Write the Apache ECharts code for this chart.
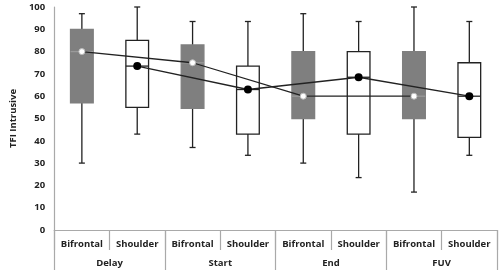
<!DOCTYPE html>
<html>
<head>
<meta charset="utf-8">
<script src="https://cdn.jsdelivr.net/npm/echarts@6/dist/echarts.min.js"></script>
<style>
html, body { margin: 0; padding: 0; background: #fff; }
#chart { width: 500px; height: 275px; }
</style>
</head>
<body>
<div id="chart"></div>
<script>
// categories on the two x levels
var categories = ['Bifrontal', 'Shoulder', 'Bifrontal', 'Shoulder', 'Bifrontal', 'Shoulder', 'Bifrontal', 'Shoulder'];
var groups = ['Delay', 'Start', 'End', 'FUV'];
var yTicks = [0, 10, 20, 30, 40, 50, 60, 70, 80, 90, 100];

// [low, q1, median, q3, high] per group
var bifrontalBox = [
    [30, 57, 80, 90, 97],
    [37, 54.5, 75, 83, 93.5],
    [30, 50, 60, 80, 97],
    [17, 50, 60, 80, 100]
];
var shoulderBox = [
    [43, 55, 73.5, 85, 100],
    [33.5, 43, 63, 73.5, 93.5],
    [23.5, 43, 68.5, 80, 93.5],
    [33.5, 41.5, 60, 75, 93.5]
];

var axisGray = '#a9a9a9';
var labelFont = '"Open Sans", Lato, sans-serif';
var labelSize = 9.5;

// build custom-series data: [xIndex, low, q1, median, q3, high]
function boxData(list, offset) {
    return list.map(function (b, i) {
        return [i * 2 + offset].concat(b);
    });
}
function medianLine(list, offset) {
    return list.map(function (b, i) {
        return [i * 2 + offset, b[2]];
    });
}

function boxRenderer(fill, stroke, medianColor) {
    return function (params, api) {
        var x = api.value(0);
        var low = api.coord([x, api.value(1)]);
        var q1 = api.coord([x, api.value(2)]);
        var med = api.coord([x, api.value(3)]);
        var q3 = api.coord([x, api.value(4)]);
        var high = api.coord([x, api.value(5)]);
        var bw = api.size([1, 0])[0] * 0.41;
        var cap = 3;
        var cx = low[0];
        var ws = { stroke: '#222', lineWidth: 1.3 };
        return {
            type: 'group',
            children: [
                { type: 'line', shape: { x1: cx, y1: low[1], x2: cx, y2: q1[1] }, style: ws },
                { type: 'line', shape: { x1: cx, y1: q3[1], x2: cx, y2: high[1] }, style: ws },
                { type: 'line', shape: { x1: cx - cap, y1: low[1], x2: cx + cap, y2: low[1] }, style: ws },
                { type: 'line', shape: { x1: cx - cap, y1: high[1], x2: cx + cap, y2: high[1] }, style: ws },
                {
                    type: 'rect',
                    shape: { x: cx - bw / 2, y: q3[1], width: bw, height: q1[1] - q3[1] },
                    style: { fill: fill, stroke: stroke, lineWidth: 1.3 }
                },
                {
                    type: 'line',
                    shape: { x1: cx - bw / 2, y1: med[1], x2: cx + bw / 2, y2: med[1] },
                    style: { stroke: medianColor, lineWidth: 1.3 }
                }
            ]
        };
    };
}

var chart = echarts.init(document.getElementById('chart'));
chart.setOption({
    animation: false,
    backgroundColor: '#fff',
    grid: { left: 47, right: 3, top: 7, bottom: 45 },
    xAxis: [
        {
            type: 'category',
            data: categories,
            position: 'bottom',
            boundaryGap: true,
            axisLine: { show: true, lineStyle: { color: axisGray, width: 1.2 } },
            axisTick: { show: true, length: 20, alignWithLabel: false, lineStyle: { color: axisGray, width: 1.2 } },
            axisLabel: { margin: 9, color: '#222', fontWeight: 'bold', fontSize: labelSize, fontFamily: labelFont, interval: 0 }
        },
        {
            type: 'category',
            data: groups,
            position: 'bottom',
            offset: 0,
            boundaryGap: true,
            axisLine: { show: false },
            axisTick: { show: true, length: 40, alignWithLabel: false, lineStyle: { color: axisGray, width: 1.2 } },
            axisLabel: { margin: 28, color: '#222', fontWeight: 'bold', fontSize: labelSize, fontFamily: labelFont, interval: 0 }
        }
    ],
    yAxis: {
        type: 'value',
        min: yTicks[0],
        max: yTicks[yTicks.length - 1],
        interval: 10,
        name: 'TFI Intrusive',
        nameLocation: 'middle',
        nameGap: 33,
        nameTextStyle: { color: '#222', fontWeight: 'bold', fontSize: labelSize, fontFamily: labelFont },
        axisLine: { show: true, lineStyle: { color: axisGray, width: 1.2 } },
        axisTick: { show: false },
        splitLine: { show: false },
        axisLabel: { margin: 9, color: '#222', fontWeight: 'bold', fontSize: labelSize, fontFamily: labelFont }
    },
    series: [
        {
            type: 'custom',
            xAxisIndex: 0,
            renderItem: boxRenderer('#7f7f7f', '#7f7f7f', '#9a9a9a'),
            encode: { x: 0, y: [1, 2, 3, 4, 5] },
            data: boxData(bifrontalBox, 0),
            z: 2
        },
        {
            type: 'custom',
            xAxisIndex: 0,
            renderItem: boxRenderer('#ffffff', '#222', '#222'),
            encode: { x: 0, y: [1, 2, 3, 4, 5] },
            data: boxData(shoulderBox, 1),
            z: 2
        },
        {
            type: 'line',
            xAxisIndex: 0,
            data: medianLine(bifrontalBox, 0),
            symbol: 'circle',
            symbolSize: 6,
            itemStyle: { color: '#ffffff', borderColor: '#bbbbbb', borderWidth: 1 },
            lineStyle: { color: '#222', width: 1.3 },
            z: 5
        },
        {
            type: 'line',
            xAxisIndex: 0,
            data: medianLine(shoulderBox, 1),
            symbol: 'circle',
            symbolSize: 8,
            itemStyle: { color: '#000', borderColor: '#000', borderWidth: 0 },
            lineStyle: { color: '#222', width: 1.3 },
            z: 5
        }
    ]
});
</script>
</body>
</html>
